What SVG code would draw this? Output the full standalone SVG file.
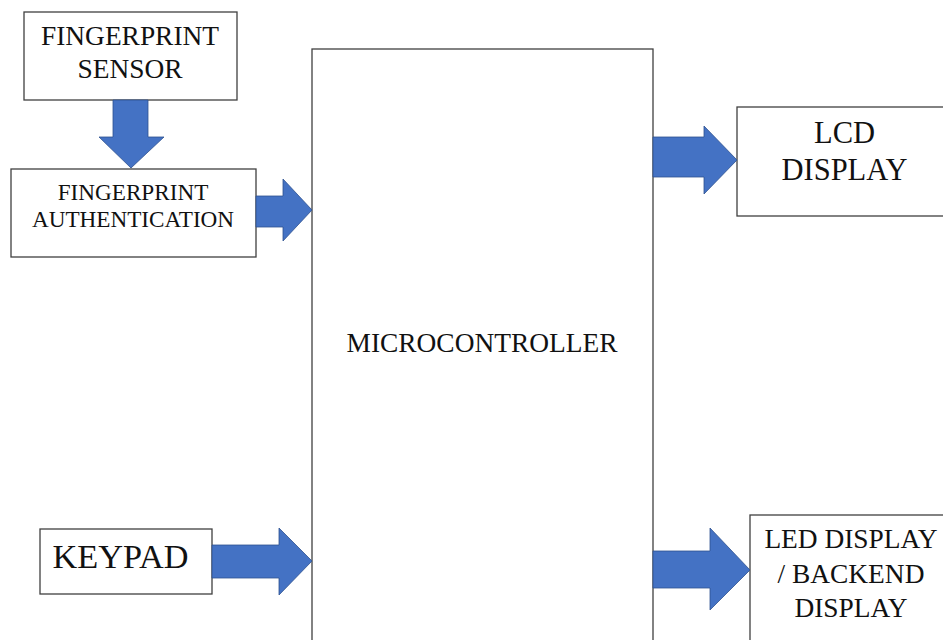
<svg xmlns="http://www.w3.org/2000/svg" width="943" height="640" viewBox="0 0 943 640">
<style>
.box{fill:#fff;stroke:#404040;stroke-width:1.3}
.t{font-family:"Liberation Serif","Times New Roman",serif;fill:#111;text-anchor:middle}
.arr{fill:#4472C4;stroke:#2F528F;stroke-width:0.8}
</style>
<rect width="943" height="640" fill="#fff"/>
<g id="microcontroller">
<rect class="box" x="312" y="49" width="341" height="600"/>
<text class="t" x="482" y="352" font-size="27.4">MICROCONTROLLER</text>
</g>
<g id="fingerprint-sensor">
<rect class="box" x="24" y="12" width="213" height="88"/>
<text class="t" x="130" y="45" font-size="27.4">FINGERPRINT</text>
<text class="t" x="130" y="78" font-size="27.4">SENSOR</text>
</g>
<g id="fingerprint-authentication">
<rect class="box" x="11" y="169" width="245" height="88"/>
<text class="t" x="133" y="200" font-size="23.2">FINGERPRINT</text>
<text class="t" x="133" y="227" font-size="23.2">AUTHENTICATION</text>
</g>
<g id="keypad">
<rect class="box" x="40" y="529" width="172" height="65"/>
<text class="t" x="120.5" y="568" font-size="34.3">KEYPAD</text>
</g>
<g id="lcd-display">
<rect class="box" x="737" y="107" width="210" height="109"/>
<text class="t" x="844.5" y="143" font-size="30.5">LCD</text>
<text class="t" x="844.5" y="180" font-size="30.5">DISPLAY</text>
</g>
<g id="led-display">
<rect class="box" x="750" y="515" width="200" height="140"/>
<text class="t" x="851" y="548" font-size="27.4">LED DISPLAY</text>
<text class="t" x="851" y="583" font-size="27.4">/ BACKEND</text>
<text class="t" x="851" y="617" font-size="27.4">DISPLAY</text>
</g>
<g id="connectors">
<polygon class="arr" points="113,100 148,100 148,137 164,137 131,168 99,137 113,137"/>
<polygon class="arr" points="256,196 283,196 283,179 312,210 283,241 283,227 256,227"/>
<polygon class="arr" points="212,545 279,545 279,528 312,561 279,595 279,578 212,578"/>
<polygon class="arr" points="653,137 704,137 704,126 737,160 704,194 704,177 653,177"/>
<polygon class="arr" points="653,551 710,551 710,528 750,570 710,610 710,588 653,588"/>
</g>
</svg>
